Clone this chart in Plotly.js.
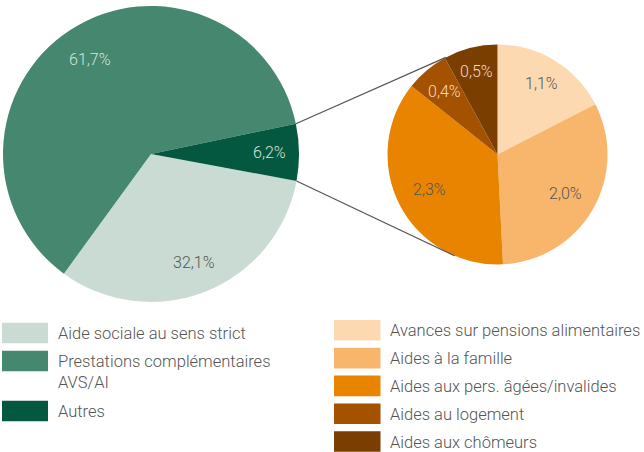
<!DOCTYPE html>
<html>
<head>
<meta charset="utf-8">
<script src="https://cdn.plot.ly/plotly-3.0.1.min.js"></script>
<style>html,body{margin:0;padding:0;background:#fff;}#chart{width:644px;height:452px;}</style>
</head>
<body>
<div id="chart"></div>
<script>
// ---- data ----
const mainLabels = ["Aide sociale au sens strict", "Prestations complémentaires<br>AVS/AI", "Autres"];
const mainValues = [32.1, 61.7, 6.2];
const mainColors = ["#c9dbd3", "#45876f", "#045840"];
const mainTextColors = ["#555555", "#d6e4dd", "#d6e4dd"];

const subLabels = ["Avances sur pensions alimentaires", "Aides à la famille", "Aides aux pers. âgées/invalides", "Aides au logement", "Aides aux chômeurs"];
const subValues = [1.1, 2.0, 2.3, 0.4, 0.5];
const subColors = ["#fcd9b0", "#f8b56c", "#e88400", "#a45200", "#7a3e00"];
const subTextColors = ["#555555", "#555555", "#555555", "#f3dcc4", "#f3dcc4"];

// ---- geometry ----
const W = 644, H = 452;
const big = {cx: 151, cy: 154, r: 148};
const small = {cx: 497.5, cy: 154.5, r: 110};
function dom(g){ return {x:[(g.cx-g.r)/W,(g.cx+g.r)/W], y:[1-(g.cy+g.r)/H, 1-(g.cy-g.r)/H]}; }
const fmt = v => v.toFixed(1).replace('.', ',') + '%';
const font = "Roboto, 'Open Sans', sans-serif";

const mainTotal = mainValues.reduce((a,b)=>a+b,0);
const subTotal = subValues.reduce((a,b)=>a+b,0);
const rotMain = 100.5, rotSub = 0;

const traces = [
  {type:'pie', labels:mainLabels, values:mainValues, sort:false, direction:'clockwise', rotation:rotMain,
   marker:{colors:mainColors, line:{width:0}}, textinfo:'none',
   domain:dom(big), showlegend:false, hoverinfo:'none'},
  {type:'pie', labels:subLabels, values:subValues, sort:false, direction:'clockwise', rotation:rotSub,
   marker:{colors:subColors, line:{width:0}}, textinfo:'none',
   domain:dom(small), showlegend:false, hoverinfo:'none'}
];

function pt(g, deg, f){ const a = deg*Math.PI/180; f = f||1; return [g.cx + f*g.r*Math.sin(a), g.cy - f*g.r*Math.cos(a)]; }
const shapes = [];
const annotations = [];

// slice labels placed along each slice's mid-angle
function sliceLabels(g, values, total, rot, colors, frac){
  let a = rot;
  values.forEach((v, i) => {
    const span = v/total*360;
    const f = Array.isArray(frac) ? frac[i] : frac;
    const p = pt(g, a + span/2, f);
    annotations.push({xref:'paper', yref:'paper', x:p[0]/W, y:1-p[1]/H, xanchor:'center', yanchor:'middle', showarrow:false,
      text:fmt(v), font:{family:font, size:16, color:colors[i], weight:300}});
    a += span;
  });
}
sliceLabels(big, mainValues, mainTotal, rotMain, mainTextColors, [0.79, 0.76, 0.8]);
sliceLabels(small, subValues, subTotal, rotSub, subTextColors, [0.76, 0.71, 0.69, 0.75, 0.78]);

// connector lines: from edges of "Autres" slice to right pie
const autresStart = (rotMain + (mainValues[0]+mainValues[1])/mainTotal*360) % 360;
const autresEnd = autresStart + mainValues[2]/mainTotal*360;
const p1 = pt(big, autresStart), p2 = pt(big, autresEnd);
const q1 = pt(small, 332), q2 = pt(small, 203);
shapes.push(
  {type:'line', xref:'paper', yref:'paper', x0:p1[0]/W, y0:1-p1[1]/H, x1:q1[0]/W, y1:1-q1[1]/H, line:{color:'#555', width:1.2}},
  {type:'line', xref:'paper', yref:'paper', x0:p2[0]/W, y0:1-p2[1]/H, x1:q2[0]/W, y1:1-q2[1]/H, line:{color:'#555', width:1.2}}
);

// legends
function legend(labels, colors, x0, sw, textX, startY, step, lineH){
  let y = startY;
  labels.forEach((lab, i) => {
    const lines = lab.split('<br>').length;
    shapes.push({type:'rect', xref:'paper', yref:'paper', x0:x0/W, x1:(x0+sw)/W, y0:1-(y+10.3)/H, y1:1-(y-10.3)/H, fillcolor:colors[i], line:{width:0}});
    annotations.push({xref:'paper', yref:'paper', x:textX/W, y:1-(y-11)/H, xanchor:'left', yanchor:'top', align:'left', showarrow:false,
      text:lab, font:{family:font, size:16.5, color:'#555555', weight:300}});
    y += step + (lines-1)*lineH;
  });
}
legend(mainLabels, mainColors, 2, 46, 56, 333, 28, 22);
legend(subLabels, subColors, 334, 46.5, 388, 330.3, 27.8, 22);

Plotly.newPlot('chart', traces, {
  width:W, height:H, margin:{l:0,r:0,t:0,b:0}, paper_bgcolor:'#fff', plot_bgcolor:'#fff',
  showlegend:false, shapes:shapes, annotations:annotations, font:{family:font}
}, {staticPlot:true});
</script>
</body>
</html>
